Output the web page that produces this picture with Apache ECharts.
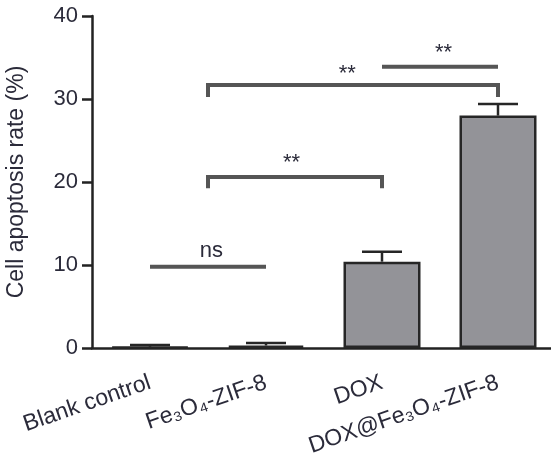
<!DOCTYPE html>
<html>
<head>
<meta charset="utf-8">
<script src="https://cdn.jsdelivr.net/npm/echarts@6.0.0/dist/echarts.min.js"></script>
<style>
  html, body { margin: 0; padding: 0; background: #fff; }
  #chart { width: 551px; height: 463px; }
</style>
</head>
<body>
<div id="chart"></div>
<script>
// groups and measured values (%)
const categories = ["Blank control", "Fe\u2083O\u2084-ZIF-8", "DOX", "DOX@Fe\u2083O\u2084-ZIF-8"];
const rateMean = [0.15, 0.3, 10.4, 28.0];
const rateErr = [0.2, 0.3, 1.2, 1.4];
const yTicks = [0, 10, 20, 30, 40];

// significance marks: from / to (category index), height, drop of end ticks
const sigFrom = [0, 0.5, 0.5, 2];
const sigTo = [1, 2, 3, 3];
const sigY = [9.8, 20.6, 31.7, 33.9];
const sigDrop = [0, 1.35, 1.45, 0];
const sigText = ["ns", "**", "**", "**"];
const sigTextX = [0.53, 1.22, 1.7, 2.53];
const sigTextY = [11.7, 22.3, 33.0, 35.5];

const textColor = "#2b2b3a";
const font = "Liberation Sans, Arial, sans-serif";

let myChart = echarts.init(document.getElementById("chart"));

// x position for fractional category index
function xAt(api, v, y) {
  let c0 = api.coord([0, y]);
  let c1 = api.coord([1, y]);
  return c0[0] + v * (c1[0] - c0[0]);
}

var option = {
  animation: false,
  grid: {
    left: 92,
    top: 16,
    width: 464,
    height: 332,
    containLabel: false,
    outerBoundsMode: "none",
  },
  xAxis: {
    type: "category",
    data: categories,
    axisLine: { lineStyle: { color: "#222", width: 2.5 } },
    axisTick: { alignWithLabel: true, length: 12, lineStyle: { color: "#222", width: 2.5 } },
    axisLabel: {
      interval: 0,
      rotate: 19,
      margin: 34,
      fontSize: 23,
      fontFamily: font,
      color: textColor,
    },
  },
  yAxis: {
    type: "value",
    min: yTicks[0],
    max: yTicks[yTicks.length - 1],
    interval: 10,
    name: "Cell apoptosis rate (%)",
    nameLocation: "middle",
    nameGap: 64,
    nameTextStyle: { fontSize: 23, fontFamily: font, color: textColor },
    splitLine: { show: false },
    axisLine: { show: true, lineStyle: { color: "#222", width: 2.5 } },
    axisTick: { show: true, length: 10, lineStyle: { color: "#222", width: 2.5 } },
    axisLabel: { fontSize: 22, margin: 14, fontFamily: font, color: textColor },
  },
  series: [
    {
      type: "bar",
      data: rateMean,
      barWidth: 77,
      itemStyle: { color: "#939398", borderColor: "#262626", borderWidth: 2.5 },
      z: 2,
    },
    {
      // upper error bars
      type: "custom",
      data: rateMean.map((m, i) => [i, m, m + rateErr[i]]),
      renderItem: function (params, api) {
        let base = api.coord([api.value(0), api.value(1)]);
        let top = api.coord([api.value(0), api.value(2)]);
        let style = { stroke: "#262626", lineWidth: 2.5 };
        return {
          type: "group",
          children: [
            { type: "line", shape: { x1: base[0], y1: base[1], x2: top[0], y2: top[1] }, style: style },
            { type: "line", shape: { x1: top[0] - 20, y1: top[1], x2: top[0] + 20, y2: top[1] }, style: style },
          ],
        };
      },
      z: 3,
    },
    {
      // significance brackets
      type: "custom",
      data: sigY.map((y, i) => [sigFrom[i], sigTo[i], y, sigDrop[i]]),
      renderItem: function (params, api) {
        let y = api.value(2);
        let x1 = xAt(api, api.value(0), y);
        let x2 = xAt(api, api.value(1), y);
        let py = api.coord([0, y])[1];
        let pyLow = api.coord([0, y - api.value(3)])[1];
        return {
          type: "polyline",
          shape: { points: [[x1, pyLow], [x1, py], [x2, py], [x2, pyLow]] },
          style: { stroke: "#555", lineWidth: 4, fill: null },
        };
      },
      z: 4,
    },
    {
      // significance labels
      type: "custom",
      data: sigText.map((t, i) => [sigTextX[i], sigTextY[i], t]),
      renderItem: function (params, api) {
        let y = api.value(1);
        return {
          type: "text",
          x: xAt(api, api.value(0), y),
          y: api.coord([0, y])[1],
          style: {
            text: sigText[params.dataIndex],
            fontSize: 22,
            fontFamily: font,
            fill: textColor,
            align: "center",
            verticalAlign: "middle",
          },
        };
      },
      z: 5,
    },
  ],
};
myChart.setOption(option);
</script>
</body>
</html>
